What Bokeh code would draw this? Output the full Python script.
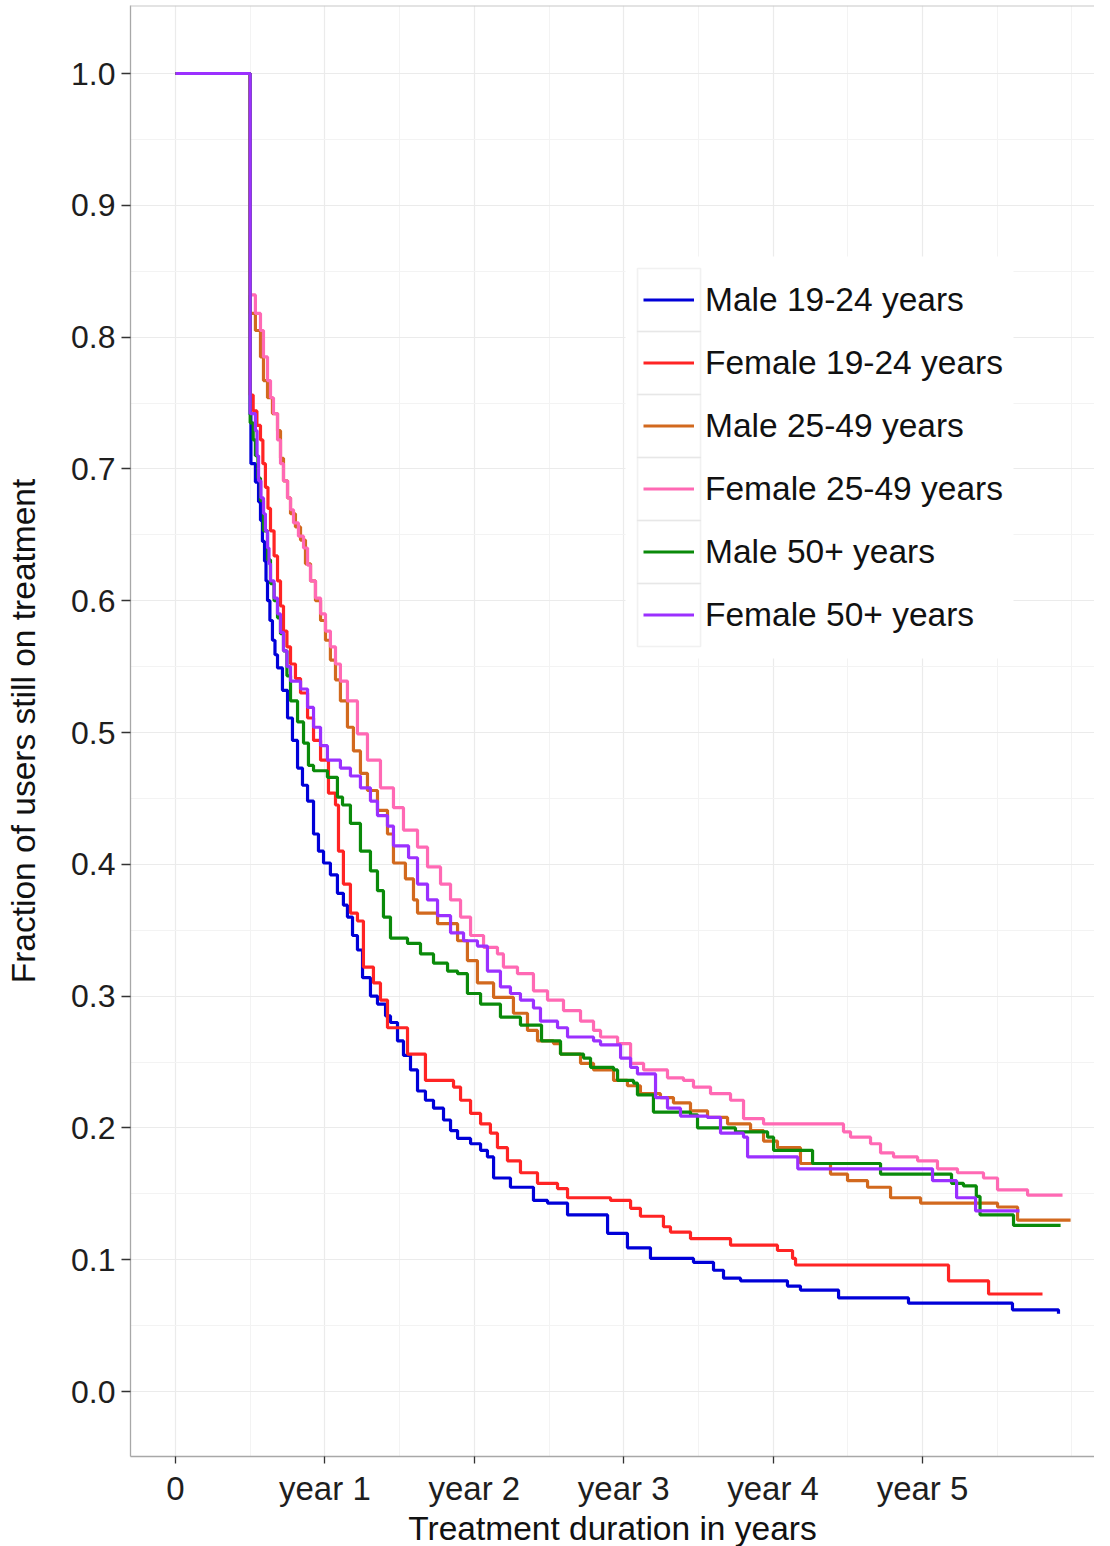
from bokeh.plotting import figure
from bokeh.models import Range1d, FixedTicker, Legend, LegendItem, BoxAnnotation, Span
from bokeh.embed import file_html
from bokeh.resources import INLINE

# ---------------- data (time in years, fraction still on treatment) ----------------
series_names = ["Male 19-24 years", "Female 19-24 years", "Male 25-49 years",
                "Female 25-49 years", "Male 50+ years", "Female 50+ years"]
series_colors = ["#0000d8", "#ff2424", "#d2691e", "#ff69b4", "#0a8a0a", "#9b30ff"]

male_19_24_t = [0, 0.5, 0.505, 0.535, 0.556, 0.569, 0.582, 0.596, 0.606, 0.616, 0.632, 0.649, 0.666,
                0.683, 0.716, 0.750, 0.783, 0.817, 0.850, 0.884, 0.924, 0.957, 0.991, 1.037, 1.084,
                1.124, 1.151, 1.185, 1.218, 1.252, 1.305, 1.352, 1.406, 1.439, 1.486, 1.526, 1.573,
                1.620, 1.673, 1.727, 1.794, 1.841, 1.888, 1.975, 2.042, 2.088, 2.129, 2.242, 2.396,
                2.490, 2.624, 2.892, 3.025, 3.179, 3.467, 3.601, 3.668, 3.782, 4.096, 4.183, 4.438,
                4.906, 5.602, 5.910]
male_19_24_s = [1.0, 0.741, 0.704, 0.690, 0.675, 0.661, 0.645, 0.630, 0.615, 0.600, 0.585, 0.570, 0.559,
                0.549, 0.532, 0.511, 0.494, 0.473, 0.460, 0.448, 0.423, 0.410, 0.401, 0.392, 0.378,
                0.369, 0.360, 0.346, 0.335, 0.314, 0.300, 0.294, 0.285, 0.280, 0.266, 0.255, 0.244,
                0.228, 0.221, 0.215, 0.206, 0.198, 0.192, 0.188, 0.183, 0.178, 0.162, 0.155, 0.145,
                0.143, 0.134, 0.120, 0.109, 0.101, 0.098, 0.092, 0.086, 0.084, 0.080, 0.077, 0.071,
                0.067, 0.062, 0.059]

female_19_24_t = [0, 0.5, 0.52, 0.545, 0.569, 0.585, 0.602, 0.619, 0.636, 0.66, 0.683, 0.703, 0.723,
                  0.746, 0.770, 0.803, 0.837, 0.884, 0.924, 0.971, 1.024, 1.071, 1.091, 1.124, 1.171,
                  1.218, 1.258, 1.325, 1.372, 1.419, 1.553, 1.673, 1.861, 1.908, 1.975, 2.042, 2.108,
                  2.155, 2.222, 2.309, 2.423, 2.557, 2.624, 2.912, 3.046, 3.112, 3.266, 3.313, 3.447,
                  3.715, 4.029, 4.130, 4.150, 5.174, 5.442, 5.803]
female_19_24_s = [1.0, 0.756, 0.744, 0.733, 0.722, 0.704, 0.686, 0.670, 0.653, 0.634, 0.615, 0.596, 0.577,
                  0.565, 0.552, 0.541, 0.530, 0.511, 0.494, 0.479, 0.454, 0.445, 0.410, 0.385, 0.363,
                  0.357, 0.322, 0.310, 0.297, 0.276, 0.256, 0.236, 0.231, 0.221, 0.211, 0.203, 0.196,
                  0.185, 0.175, 0.166, 0.158, 0.154, 0.147, 0.145, 0.139, 0.133, 0.125, 0.121, 0.116,
                  0.111, 0.107, 0.101, 0.096, 0.084, 0.074, 0.074]

male_25_49_t = [0, 0.5, 0.535, 0.569, 0.589, 0.616, 0.649, 0.683, 0.703, 0.723, 0.750, 0.770, 0.803,
                0.837, 0.870, 0.904, 0.937, 0.971, 1.004, 1.037, 1.071, 1.104, 1.151, 1.191, 1.238,
                1.285, 1.352, 1.419, 1.459, 1.539, 1.593, 1.620, 1.754, 1.888, 1.954, 2.021, 2.129,
                2.262, 2.356, 2.423, 2.530, 2.577, 2.711, 2.798, 2.932, 3.025, 3.112, 3.246, 3.333,
                3.447, 3.561, 3.695, 3.849, 3.936, 4.029, 4.183, 4.384, 4.498, 4.632, 4.786, 4.987,
                5.502, 5.636, 5.991]
male_25_49_s = [1.0, 0.818, 0.805, 0.785, 0.767, 0.754, 0.742, 0.729, 0.708, 0.691, 0.678, 0.666, 0.656,
                0.646, 0.628, 0.615, 0.600, 0.585, 0.570, 0.555, 0.540, 0.524, 0.504, 0.486, 0.469,
                0.456, 0.441, 0.423, 0.401, 0.389, 0.373, 0.363, 0.355, 0.342, 0.327, 0.310, 0.299,
                0.287, 0.274, 0.266, 0.264, 0.256, 0.249, 0.244, 0.236, 0.232, 0.226, 0.223, 0.219,
                0.213, 0.208, 0.203, 0.198, 0.190, 0.185, 0.173, 0.165, 0.160, 0.155, 0.147, 0.143,
                0.140, 0.130, 0.130]

female_25_49_t = [0, 0.5, 0.535, 0.569, 0.589, 0.616, 0.636, 0.656, 0.683, 0.703, 0.723, 0.750, 0.770,
                  0.790, 0.823, 0.857, 0.884, 0.904, 0.937, 0.971, 1.004, 1.037, 1.071, 1.104, 1.151,
                  1.218, 1.285, 1.372, 1.459, 1.526, 1.620, 1.687, 1.774, 1.841, 1.908, 1.975, 2.062,
                  2.155, 2.195, 2.289, 2.396, 2.490, 2.597, 2.711, 2.798, 2.845, 2.959, 3.046, 3.133,
                  3.293, 3.400, 3.467, 3.581, 3.715, 3.802, 3.936, 4.471, 4.518, 4.652, 4.719, 4.806,
                  4.967, 5.100, 5.234, 5.408, 5.502, 5.703, 5.937]
female_25_49_s = [1.0, 0.832, 0.818, 0.805, 0.785, 0.767, 0.754, 0.742, 0.722, 0.704, 0.691, 0.678, 0.669,
                  0.659, 0.649, 0.640, 0.627, 0.615, 0.602, 0.590, 0.577, 0.565, 0.552, 0.539, 0.524,
                  0.499, 0.479, 0.458, 0.443, 0.426, 0.413, 0.398, 0.385, 0.373, 0.360, 0.346, 0.337,
                  0.332, 0.322, 0.317, 0.304, 0.297, 0.289, 0.281, 0.274, 0.269, 0.264, 0.249, 0.244,
                  0.238, 0.236, 0.231, 0.226, 0.221, 0.207, 0.203, 0.197, 0.193, 0.188, 0.181, 0.178,
                  0.175, 0.169, 0.166, 0.162, 0.153, 0.149, 0.149]

male_50_t = [0, 0.5, 0.52, 0.535, 0.552, 0.569, 0.589, 0.616, 0.636, 0.66, 0.683, 0.703, 0.723,
             0.746, 0.770, 0.817, 0.857, 0.890, 0.924, 1.017, 1.084, 1.118, 1.171, 1.238, 1.305,
             1.352, 1.392, 1.439, 1.553, 1.640, 1.727, 1.821, 1.888, 1.954, 2.042, 2.175, 2.309,
             2.450, 2.577, 2.731, 2.778, 2.932, 2.959, 3.066, 3.092, 3.199, 3.447, 3.494, 3.748,
             3.963, 4.003, 4.264, 4.719, 5.194, 5.274, 5.360, 5.385, 5.609, 5.924]
male_50_s = [1.0, 0.735, 0.722, 0.710, 0.693, 0.676, 0.653, 0.631, 0.613, 0.600, 0.587, 0.575, 0.562,
             0.543, 0.524, 0.508, 0.492, 0.475, 0.471, 0.466, 0.451, 0.445, 0.431, 0.410, 0.395,
             0.380, 0.360, 0.344, 0.340, 0.332, 0.325, 0.319, 0.317, 0.302, 0.294, 0.284, 0.278,
             0.266, 0.256, 0.253, 0.246, 0.244, 0.236, 0.234, 0.225, 0.212, 0.210, 0.200, 0.197,
             0.193, 0.183, 0.173, 0.165, 0.158, 0.156, 0.148, 0.134, 0.126, 0.126]

female_50_t = [0, 0.5, 0.535, 0.546, 0.556, 0.572, 0.589, 0.602, 0.616, 0.626, 0.636, 0.66, 0.683,
               0.703, 0.723, 0.746, 0.770, 0.837, 0.884, 0.924, 0.971, 1.017, 1.104, 1.171, 1.238,
               1.305, 1.352, 1.419, 1.459, 1.560, 1.620, 1.687, 1.754, 1.841, 1.928, 2.021, 2.088,
               2.175, 2.242, 2.309, 2.396, 2.443, 2.557, 2.624, 2.798, 2.845, 2.979, 3.046, 3.092,
               3.213, 3.293, 3.380, 3.561, 3.648, 3.802, 3.829, 4.165, 5.067, 5.228, 5.355, 5.649]
female_50_s = [1.0, 0.742, 0.729, 0.710, 0.691, 0.678, 0.666, 0.653, 0.640, 0.628, 0.615, 0.602, 0.590,
               0.576, 0.562, 0.550, 0.539, 0.533, 0.519, 0.504, 0.490, 0.479, 0.473, 0.467, 0.458,
               0.448, 0.437, 0.429, 0.414, 0.405, 0.385, 0.373, 0.361, 0.348, 0.342, 0.338, 0.319,
               0.307, 0.302, 0.297, 0.291, 0.281, 0.276, 0.269, 0.266, 0.263, 0.253, 0.246, 0.241,
               0.223, 0.215, 0.209, 0.208, 0.196, 0.193, 0.178, 0.169, 0.160, 0.147, 0.137, 0.137]

x_ticks = [0, 1, 2, 3, 4, 5]
x_tick_labels = ["0", "year 1", "year 2", "year 3", "year 4", "year 5"]
x_minor = [0.5, 1.5, 2.5, 3.5, 4.5, 5.5, 6.0]
y_ticks = [0.0, 0.1, 0.2, 0.3, 0.4, 0.5, 0.6, 0.7, 0.8, 0.9, 1.0]
y_tick_labels = ["0.0", "0.1", "0.2", "0.3", "0.4", "0.5", "0.6", "0.7", "0.8", "0.9", "1.0"]
y_minor = [0.05, 0.15, 0.25, 0.35, 0.45, 0.55, 0.65, 0.75, 0.85, 0.95]

series_t = [male_19_24_t, female_19_24_t, male_25_49_t, female_25_49_t, male_50_t, female_50_t]
series_s = [male_19_24_s, female_19_24_s, male_25_49_s, female_25_49_s, male_50_s, female_50_s]

# ---------------- figure ----------------
FONT = "Liberation Sans"
TOP = 5
FRAME_H = 1451
FRAME_W = 964
Y0, Y1 = -0.0493, 1.0516
p = figure(frame_width=FRAME_W, frame_height=FRAME_H,
           min_border_left=130, min_border_right=0, min_border_top=TOP, min_border_bottom=88,
           x_range=Range1d(-0.301, 6.151), y_range=Range1d(Y0, Y1),
           output_backend="svg", toolbar_location=None)
p.background_fill_color = "white"
p.border_fill_color = "white"
p.outline_line_color = None

# grids
p.xgrid.ticker = FixedTicker(ticks=x_ticks, minor_ticks=x_minor)
p.ygrid.ticker = FixedTicker(ticks=y_ticks, minor_ticks=y_minor)
for g in (p.xgrid, p.ygrid):
    g.grid_line_color = "#ebebeb"
    g.grid_line_width = 1.2
    g.minor_grid_line_color = "#f3f3f3"
    g.minor_grid_line_width = 1

# axes
p.xaxis.ticker = FixedTicker(ticks=x_ticks)
p.yaxis.ticker = FixedTicker(ticks=y_ticks)
p.xaxis.major_label_overrides = {t: l for t, l in zip(x_ticks, x_tick_labels)}
p.yaxis.major_label_overrides = {t: l for t, l in zip(y_ticks, y_tick_labels)}
for ax in (p.xaxis, p.yaxis):
    ax.axis_line_color = "#a8a8a8"
    ax.axis_line_width = 1.3
    ax.major_tick_line_color = "#333333"
    ax.major_tick_line_width = 1.3
    ax.major_tick_in = 0
    ax.minor_tick_line_color = None
    ax.major_label_text_font = FONT
    ax.major_label_text_color = "#1e1e1e"
    ax.axis_label_text_font = FONT
    ax.axis_label_text_font_size = "33.5px"
    ax.axis_label_text_font_style = "normal"
    ax.axis_label_text_color = "#111111"
p.xaxis.major_label_text_font_size = "33px"
p.yaxis.major_label_text_font_size = "32px"
p.xaxis.major_tick_out = 7
p.yaxis.major_tick_out = 9
p.xaxis.major_label_standoff = 6
p.yaxis.major_label_standoff = 6
p.xaxis.axis_label = "Treatment duration in years"
p.yaxis.axis_label = "Fraction of users still on treatment"
p.xaxis.axis_label_standoff = 0
p.yaxis.axis_label_standoff = 26

# top panel border
p.add_layout(Span(location=Y1, dimension="width", line_color="#c8c8c8", line_width=2))

ROW = 63
LEG_TOP = 268          # page y of the first key cell's top edge
LEG_KEY_LEFT = 643     # page x where the key line starts
FRAME_LEFT = 130
frame_bottom = TOP + FRAME_H
n_items = len(series_names)

# white legend background (above the grid, below everything else)
p.add_layout(BoxAnnotation(left=625 - FRAME_LEFT, right=1013 - FRAME_LEFT,
                           top=frame_bottom - (LEG_TOP - 12),
                           bottom=frame_bottom - (LEG_TOP + ROW * n_items + 12),
                           left_units="screen", right_units="screen",
                           top_units="screen", bottom_units="screen",
                           fill_color="white", fill_alpha=1.0, line_color=None,
                           level="underlay"))

# curves
renderers = []
for t, s, c in zip(series_t, series_s, series_colors):
    r = p.step(t, s, mode="after", line_color=c, line_width=3.2)
    renderers.append(r)

legend = Legend(items=[LegendItem(label=n, renderers=[r]) for n, r in zip(series_names, renderers)],
                location=(LEG_KEY_LEFT - FRAME_LEFT, frame_bottom - LEG_TOP - ROW * n_items),
                orientation="vertical",
                padding=18, spacing=0, margin=0,
                glyph_width=51, glyph_height=ROW, label_height=ROW, label_standoff=11,
                label_text_font=FONT, label_text_font_size="33.5px", label_text_color="#111111",
                label_text_baseline="middle",
                border_line_color=None, background_fill_alpha=0.0)
p.add_layout(legend)

# key cell borders of the legend
for i in range(n_items):
    top = frame_bottom - LEG_TOP - ROW * i
    p.add_layout(BoxAnnotation(left=LEG_KEY_LEFT - 6 - FRAME_LEFT, right=LEG_KEY_LEFT + 57 - FRAME_LEFT,
                               top=top, bottom=top - ROW,
                               left_units="screen", right_units="screen",
                               top_units="screen", bottom_units="screen",
                               fill_alpha=0, line_color="#d2d2d2", line_width=1.6,
                               level="overlay"))

open("out.html", "w").write(file_html(p, INLINE))
